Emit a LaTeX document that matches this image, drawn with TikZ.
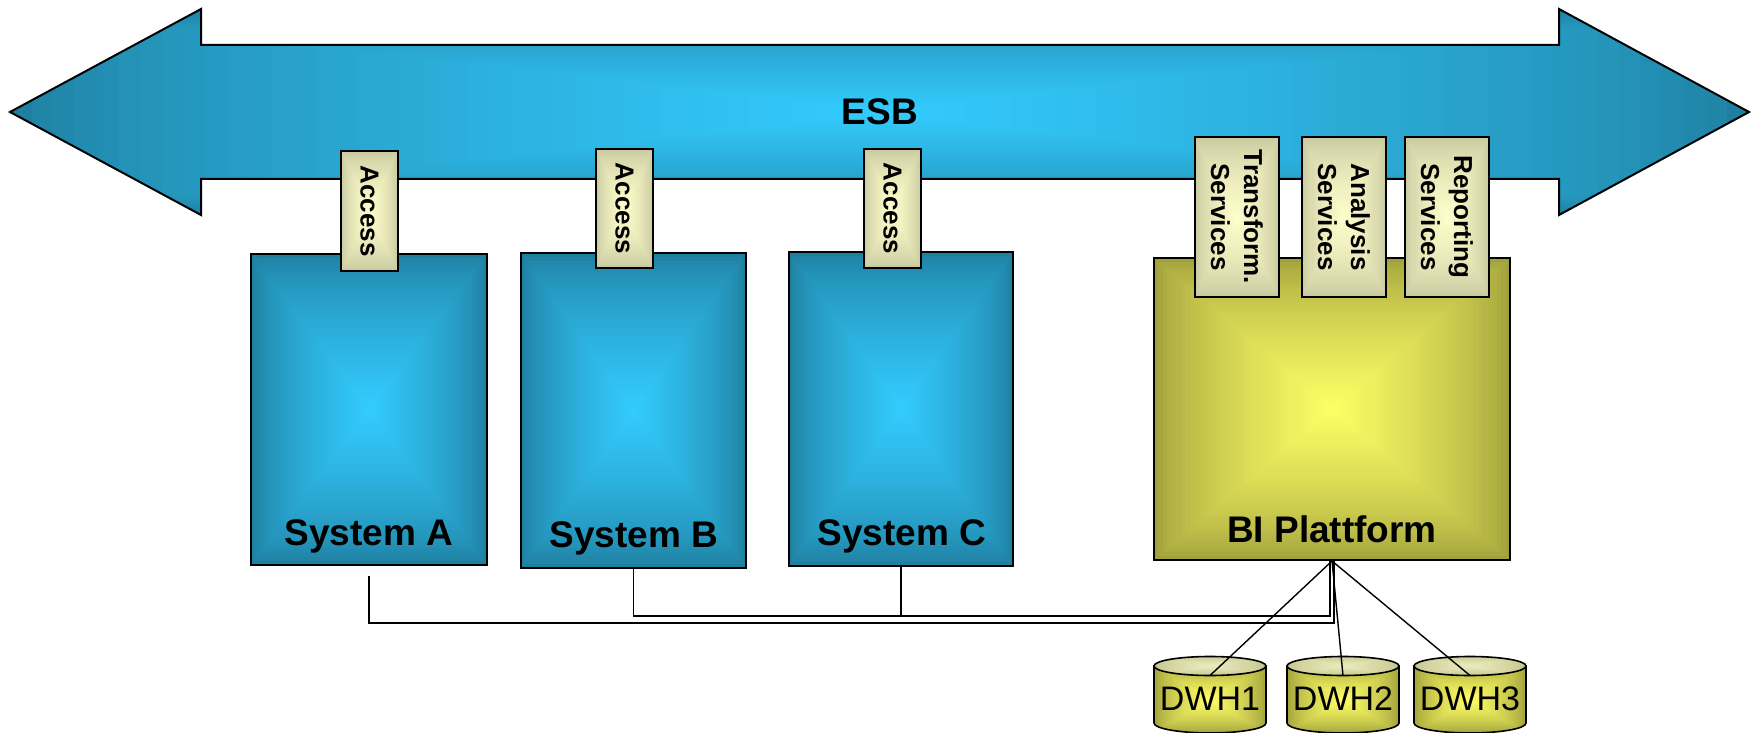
\documentclass[tikz,border=0pt]{standalone}
\usepackage{fontspec}
\setmainfont{Liberation Sans}
\usetikzlibrary{calc,fit}
\definecolor{teald}{RGB}{31,127,160}
\definecolor{tealb}{RGB}{51,204,255}
\definecolor{oliv}{RGB}{160,160,60}
\definecolor{yell}{RGB}{255,255,102}
\definecolor{paled}{RGB}{200,200,160}
\definecolor{palel}{RGB}{255,255,204}
\definecolor{toped}{RGB}{196,196,140}
\definecolor{topel}{RGB}{235,235,190}
\tikzset{
  rgrad/.style 2 args={path picture={
    \fill[#1] (path picture bounding box.south west) rectangle (path picture bounding box.north east);
    \foreach \gi in {1,...,40}{
      \pgfmathsetmacro\gradT{\gi/40}
      \pgfmathsetmacro\gradP{100*(\gi/40)^0.7}
      \fill[#2!\gradP!#1] ($(path picture bounding box.south west)!\gradT!(path picture bounding box.center)$) rectangle ($(path picture bounding box.north east)!\gradT!(path picture bounding box.center)$);
    }}},
  box/.style={draw=black, line width=1pt, inner sep=0pt},
  sysbox/.style={box, rgrad={teald}{tealb}},
  bibox/.style={box, rgrad={oliv}{yell}},
  tabbox/.style={box, rgrad={paled}{palel}},
  lbl/.style={font=\fontsize{18.5}{21}\selectfont\bfseries, inner sep=0pt},
  tablbl/.style={font=\fontsize{13}{16.5}\selectfont\bfseries, rotate=-90, align=center, inner sep=0pt},
  conn/.style={draw=black, line width=0.7pt},
}
\newcommand\dwhcyl[3]{%
  \path[draw=black, line width=0.8pt, rgrad={oliv}{yell}] (#2-56,666) -- (#2-56,723) arc[start angle=180,end angle=0,x radius=56,y radius=10] -- (#2+56,666) -- cycle;
  \path[draw=black, line width=0.8pt, rgrad={toped}{topel}] (#2,666) ellipse[x radius=56, y radius=9.5];
  \coordinate (#1top) at (#2,675.5);
  \node[font=\fontsize{17}{19}\selectfont, inner sep=0pt] (#1) at (#2,699) {#3};}
\begin{document}
\begin{tikzpicture}[x=0.5pt,y=-0.5pt]
\useasboundingbox (0,0) rectangle (1752,733);
% ESB arrow
\path[draw=black, line width=1pt, rgrad={teald}{tealb}]
  (10,112) -- (201,9) -- (201,45) -- (1559,45) -- (1559,9) -- (1749,112)
  -- (1559,215) -- (1559,179) -- (201,179) -- (201,215) -- cycle;
\node[lbl] (esb) at (880,112) {ESB};
% systems
\node[sysbox, fit={(251,254) (487,565)}] (sysA) {};
\node[sysbox, fit={(521,253) (746,568)}] (sysB) {};
\node[sysbox, fit={(789,252) (1013,566)}] (sysC) {};
\node[bibox, fit={(1154,258) (1510,560)}] (bi) {};
\node[lbl] (sysAl) at (369,536) {System A};
\node[lbl] (sysBl) at (634,538) {System B};
\node[lbl] (sysCl) at (902,536) {System C};
\node[lbl] (bil) at (1332,529) {BI Plattform};
% access tabs
\node[tabbox, fit={(341,151) (398,271)}] (accA) {};
\node[tabbox, fit={(596,149) (653,268)}] (accB) {};
\node[tabbox, fit={(864,149) (921,268)}] (accC) {};
\node[tablbl] (accAl) at (accA.center) {Access};
\node[tablbl] (accBl) at (accB.center) {Access};
\node[tablbl] (accCl) at (accC.center) {Access};
% service tabs
\node[tabbox, fit={(1195,137) (1279,297)}] (trf) {};
\node[tabbox, fit={(1302,137) (1386,297)}] (ana) {};
\node[tabbox, fit={(1405,137) (1489,297)}] (rep) {};
\node[tablbl] (trfl) at (trf.center) {Transform.\\Services};
\node[tablbl] (anal) at (ana.center) {Analysis\\Services};
\node[tablbl] (repl) at (rep.center) {Reporting\\Services};
% data warehouses
\dwhcyl{dwh1}{1210}{DWH1}
\dwhcyl{dwh2}{1343}{DWH2}
\dwhcyl{dwh3}{1470}{DWH3}
% connectors
\coordinate (apex) at (bi.south);
\coordinate (ajn) at ([xshift=1pt,yshift=-31pt]bi.south);
\coordinate (bcj) at ([xshift=-1pt,yshift=-27.5pt]bi.south);
\draw[conn] ([yshift=-5pt]sysA.south) |- (ajn) -- ([xshift=1pt]apex);
\draw[conn] (sysB.south) |- (bcj) -- ([xshift=-1pt]apex);
\draw[conn] (sysC.south) -- (sysC.south |- bcj);
\draw[conn] (apex) -- (dwh1top);
\draw[conn] (apex) -- (dwh2top);
\draw[conn] (apex) -- (dwh3top);
\end{tikzpicture}
\end{document}
